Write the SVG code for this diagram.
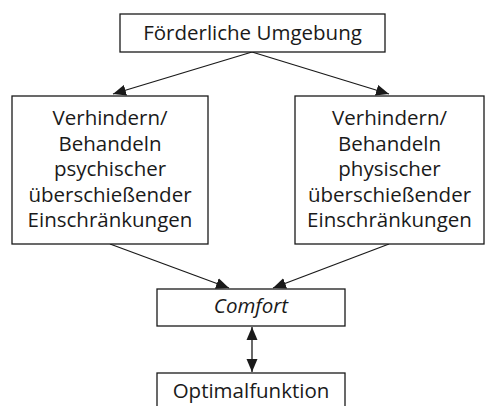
<svg xmlns="http://www.w3.org/2000/svg" width="485" height="406" viewBox="0 0 485 406">
<style>
  .box { fill: #ffffff; stroke: #1a1a1a; stroke-width: 1.3; }
  .t { font-family: "Open Sans", "Liberation Sans", Arial, sans-serif; font-size: 20.5px; fill: #1a1a1a; text-anchor: middle; }
  .it { font-style: italic; }
  .edge { stroke: #1a1a1a; stroke-width: 1.3; fill: none; }
</style>
<defs>
  <marker id="ah" markerUnits="userSpaceOnUse" markerWidth="13" markerHeight="12" viewBox="0 0 13 12" refX="13" refY="6" orient="auto-start-reverse">
    <path d="M0,0.5 L13,6 L0,11.5 Z" fill="#1a1a1a"/>
  </marker>
</defs>
<rect width="485" height="406" fill="#ffffff"/>
<g id="connectors">
  <line class="edge" x1="252" y1="52" x2="113" y2="94" marker-end="url(#ah)"/>
  <line class="edge" x1="252" y1="52" x2="389" y2="94" marker-end="url(#ah)"/>
  <line class="edge" x1="110" y1="244" x2="229" y2="288" marker-end="url(#ah)"/>
  <line class="edge" x1="389" y1="244" x2="273" y2="288" marker-end="url(#ah)"/>
  <line class="edge" x1="252" y1="327" x2="252" y2="372" marker-start="url(#ah)" marker-end="url(#ah)"/>
</g>
<g id="umgebung">
  <rect class="box" x="120" y="14" width="265" height="38"/>
  <text class="t" x="252.5" y="40">Förderliche Umgebung</text>
</g>
<g id="psychisch">
  <rect class="box" x="12" y="96" width="196" height="148"/>
  <text class="t" x="110" y="125">Verhindern/</text>
  <text class="t" x="110" y="150.5">Behandeln</text>
  <text class="t" x="110" y="176">psychischer</text>
  <text class="t" x="110" y="201.5">überschießender</text>
  <text class="t" x="110" y="227">Einschränkungen</text>
</g>
<g id="physisch">
  <rect class="box" x="295" y="96" width="189" height="148"/>
  <text class="t" x="389.5" y="125">Verhindern/</text>
  <text class="t" x="389.5" y="150.5">Behandeln</text>
  <text class="t" x="389.5" y="176">physischer</text>
  <text class="t" x="389.5" y="201.5">überschießender</text>
  <text class="t" x="389.5" y="227">Einschränkungen</text>
</g>
<g id="comfort">
  <rect class="box" x="157" y="289" width="188" height="37"/>
  <text class="t it" x="251" y="313">Comfort</text>
</g>
<g id="optimalfunktion">
  <rect class="box" x="157" y="373" width="188" height="40"/>
  <text class="t" x="251" y="398">Optimalfunktion</text>
</g>
</svg>
